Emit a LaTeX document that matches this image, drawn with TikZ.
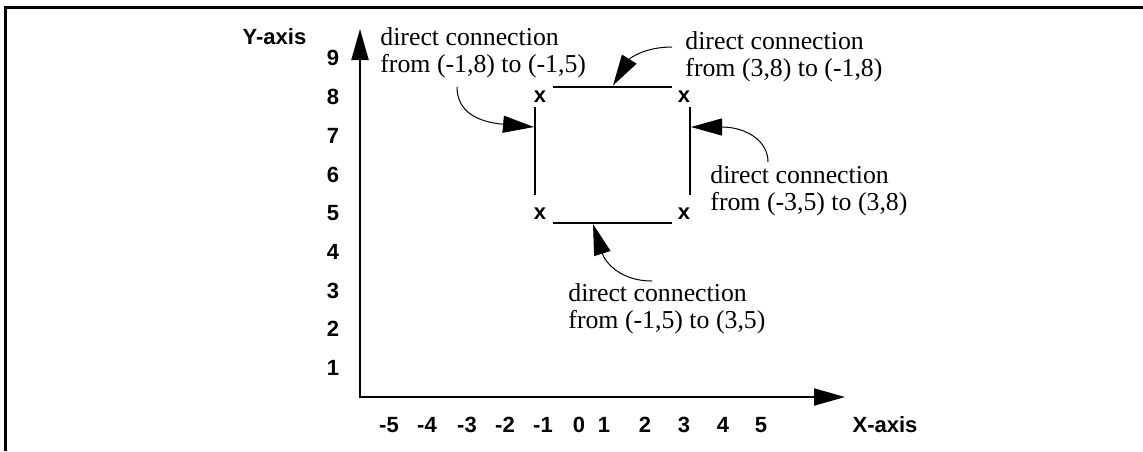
\documentclass[tikz,border=0pt]{standalone}
\usepackage{fontspec}
\setmainfont{Liberation Serif}
\newfontfamily\lsans{Liberation Sans}
\usetikzlibrary{arrows.meta}
\begin{document}
\begin{tikzpicture}[x=0.5pt,y=-0.5pt,
  lbl/.style={font=\lsans\bfseries\fontsize{11}{13}\selectfont, inner sep=0pt},
  note/.style={font=\fontsize{12.9}{13.5}\selectfont, align=left, inner sep=0pt, anchor=north west},
  tipbig/.tip={Triangle[length=15.5pt,width=8.5pt]},
  axisline/.style={line width=1pt},
  seg/.style={line width=1pt},
  callout/.style={line width=0.5pt, -{tipbig}},
  frame/.style={line width=1.5pt}]
\useasboundingbox (0,0) rectangle (1143,451);
% frame
\draw[frame] (5.5,451) -- (5.5,7.5) -- (1143,7.5);
% axes
\coordinate (O) at (360,397);
\coordinate (Ytip) at (360,29);
\coordinate (Xtip) at (845,397);
\draw[axisline, {tipbig}-{tipbig}] (Ytip) -- (O) -- (Xtip);
\node[lbl] (ylab) at (274.5,37) {Y-axis};
\node[lbl] (xlab) at (885,425) {X-axis};
% y tick labels
\foreach \k in {1,...,9} {
  \node[lbl] (y\k) at (333,{368-(\k-1)*38.71}) {\k};
}
% x tick labels
\foreach \v/\px in {-5/389,-4/427,-3/467,-2/505,-1/543,0/579,1/604,2/645,3/684,4/723,5/761} {
  \node[lbl] (x\v) at (\px,425) {\v};
}
% corner markers
\node[lbl] (mTL) at (540,97) {x};
\node[lbl] (mTR) at (684,97) {x};
\node[lbl] (mBL) at (540,214) {x};
\node[lbl] (mBR) at (684,214) {x};
% square segments
\coordinate (TopA) at (553,86.7);
\coordinate (TopB) at (672,86.7);
\coordinate (BotA) at (553,222.7);
\coordinate (BotB) at (672,222.7);
\coordinate (LeftA) at (535,107);
\coordinate (LeftB) at (535,195);
\coordinate (RightA) at (690,107);
\coordinate (RightB) at (690,195);
\draw[seg] (TopA) -- (TopB);
\draw[seg] (BotA) -- (BotB);
\draw[seg] (LeftA) -- (LeftB);
\draw[seg] (RightA) -- (RightB);
% notes
\node[note] (n1) at (380,27) {direct connection\\from (-1,8) to (-1,5)};
\node[note] (n2) at (685,31) {direct connection\\from (3,8) to (-1,8)};
\node[note] (n3) at (710,165) {direct connection\\from (-3,5) to (3,8)};
\node[note] (n4) at (568,283) {direct connection\\from (-1,5) to (3,5)};
% callout arrows
\coordinate (s1) at (457,87);
\coordinate (t1) at (534,127);
\coordinate (s2) at (672,47);
\coordinate (t2) at (613,85.5);
\coordinate (s3) at (768,162);
\coordinate (t3) at (691,127);
\coordinate (s4) at (652,281);
\coordinate (t4) at (593,224);
\draw[callout] (s1) .. controls (457,112) and (478,122) .. (t1);
\draw[callout] (s2) .. controls (645,47) and (630,58) .. (t2);
\draw[callout] (s3) .. controls (768,140) and (745,127) .. (t3);
\draw[callout] (s4) .. controls (620,281) and (605,262) .. (t4);
\end{tikzpicture}
\end{document}
